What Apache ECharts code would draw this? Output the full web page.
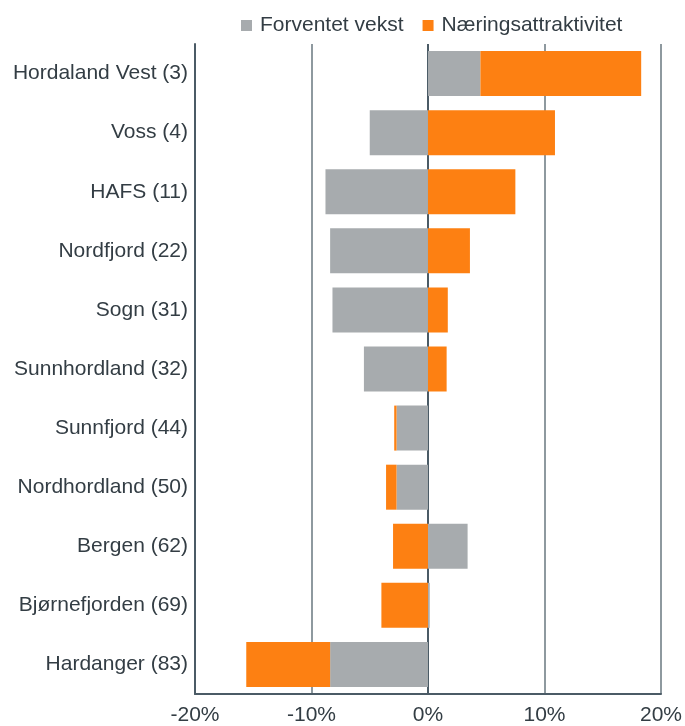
<!DOCTYPE html>
<html>
<head>
<meta charset="utf-8">
<script src="https://cdn.jsdelivr.net/npm/echarts@6/dist/echarts.min.js"></script>
<style>html,body{margin:0;padding:0;background:#fff}#c{width:685px;height:726px}</style>
</head>
<body>
<div id="c"></div>
<script>
const categories = ["Hordaland Vest (3)","Voss (4)","HAFS (11)","Nordfjord (22)","Sogn (31)","Sunnhordland (32)","Sunnfjord (44)","Nordhordland (50)","Bergen (62)","Bjørnefjorden (69)","Hardanger (83)"];
const forventetVekst = [4.5, -5.0, -8.8, -8.4, -8.2, -5.5, -2.7, -2.7, 3.4, 0.15, -8.4];
const naeringsattraktivitet = [13.8, 10.9, 7.5, 3.6, 1.7, 1.6, -0.2, -0.9, -3.0, -4.0, -7.2];
const xTicks = [-20, -10, 0, 10, 20];

const font = 'Liberation Sans, Arial, sans-serif';
const chart = echarts.init(document.getElementById('c'));
chart.setOption({
  animation: false,
  legend: {
    top: 10, left: 236,
    itemWidth: 11, itemHeight: 11, itemGap: 19,
    icon: 'rect',
    textStyle: { fontSize: 21, color: '#333d44', fontFamily: font, padding: [0, 0, 0, 3] },
    data: ['Forventet vekst', 'Næringsattraktivitet']
  },
  grid: { left: 195, right: 23, top: 44, bottom: 30, containLabel: false },
  xAxis: {
    type: 'value', min: xTicks[0], max: xTicks[xTicks.length-1], interval: 10,
    axisLine: { show: true, lineStyle: { color: '#4b5b66', width: 2 } },
    axisTick: { show: false },
    axisLabel: { formatter: '{value}%', fontSize: 21, color: '#333d44', fontFamily: font, margin: 11 },
    splitLine: { show: true, lineStyle: { color: ['#4b5b66', '#8e999f', '#4b5b66', '#8e999f', '#8e999f'], width: 2 } }
  },
  yAxis: {
    type: 'category', data: categories, inverse: true,
    axisLine: { show: true, onZero: false, lineStyle: { color: '#4b5b66', width: 2 } },
    axisTick: { show: false },
    axisLabel: { fontSize: 21, color: '#333d44', fontFamily: font, margin: 7 }
  },
  series: [
    { name: 'Forventet vekst', type: 'bar', stack: 'a', data: forventetVekst, barWidth: 45, itemStyle: { color: '#a7abae' } },
    { name: 'Næringsattraktivitet', type: 'bar', stack: 'a', data: naeringsattraktivitet, barWidth: 45, itemStyle: { color: '#fd8012' } }
  ]
});
</script>
</body>
</html>
